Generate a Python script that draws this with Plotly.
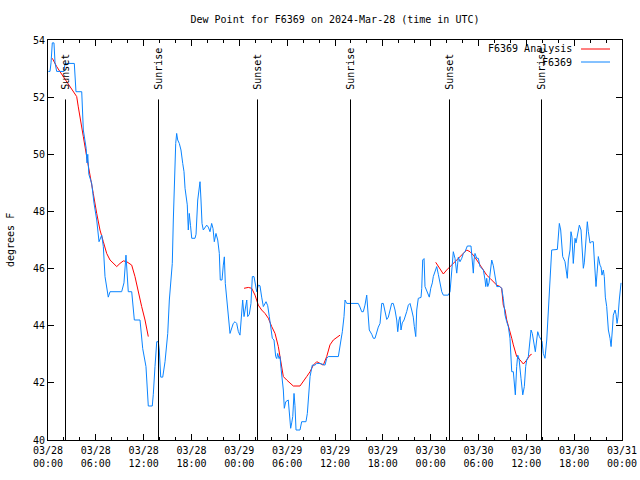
import plotly.graph_objects as go
from datetime import datetime, timedelta

START = datetime(2024, 3, 28, 0, 0)

# F6369 observations: hours since 2024-03-28 00:00 UTC, dew point (F)
obs_hours = [0.04, 0.25, 0.38, 0.54, 0.75, 0.88, 1.09, 2.01, 2.13, 3.30, 3.51, 4.23, 4.43, 4.79, 4.89, 4.99,
             5.12, 5.48, 5.77, 6.11, 6.40, 6.74, 6.94, 7.15, 7.56, 7.78, 9.24, 9.53, 9.78, 9.91, 10.07, 10.50,
             10.70, 10.83, 11.54, 11.67, 11.88, 12.29, 12.51, 12.58, 13.08, 13.21, 13.42, 13.64, 13.84, 13.96,
             14.14, 14.39, 14.68, 15.02, 15.22, 15.39, 15.59, 15.72, 15.84, 16.02, 16.14, 16.27, 16.47, 16.68,
             16.90, 17.06, 17.19, 17.47, 17.60, 17.72, 17.88, 18.03, 18.44, 18.57, 18.78, 18.94, 19.07, 19.19,
             19.32, 19.48, 19.69, 19.91, 20.11, 20.32, 20.53, 20.70, 20.86, 21.07, 21.29, 21.49, 21.61, 21.83,
             21.99, 22.12, 22.24, 22.42, 22.58, 22.83, 23.24, 23.46, 23.67, 23.87, 24.08, 24.30, 24.42, 24.59,
             24.71, 24.93, 25.05, 25.25, 25.46, 25.63, 25.84, 25.97, 26.18, 26.38, 26.59, 26.80, 27.01, 27.35,
             27.56, 27.76, 27.97, 28.14, 28.35, 28.56, 28.69, 28.81, 28.98, 29.10, 29.23, 29.39, 29.52, 29.64,
             29.82, 30.14, 30.27, 30.44, 30.57, 30.70, 30.86, 30.98, 31.11, 31.61, 31.82, 32.36, 32.53, 32.65,
             32.87, 33.15, 33.49, 33.71, 34.12, 34.75, 34.96, 35.16, 36.42, 36.75, 36.92, 37.13, 37.26, 37.47,
             38.92, 39.14, 39.35, 39.55, 39.76, 39.98, 40.10, 40.30, 40.61, 40.81, 41.02, 41.23, 41.43, 41.65,
             41.86, 42.06, 42.27, 42.49, 42.69, 42.90, 43.11, 43.31, 43.53, 43.74, 43.87, 44.03, 44.16, 44.28,
             44.44, 44.66, 44.87, 45.00, 45.20, 45.41, 45.62, 45.82, 45.95, 46.13, 46.25, 46.45, 46.79, 46.88,
             47.00, 47.17, 47.29, 47.50, 47.70, 47.83, 48.01, 48.21, 48.33, 48.55, 48.76, 48.96, 49.17, 49.39,
             49.59, 50.21, 50.43, 50.64, 50.84, 51.05, 51.27, 51.47, 51.68, 51.90, 52.10, 52.31, 52.60, 53.06,
             53.15, 53.35, 53.44, 53.56, 53.78, 53.98, 54.19, 54.40, 54.61, 54.82, 54.91, 55.03, 55.16, 55.32,
             55.44, 55.66, 55.86, 56.07, 56.29, 56.70, 56.91, 57.11, 57.33, 57.54, 57.74, 57.95, 58.08, 58.17,
             58.37, 58.49, 58.62, 58.79, 58.92, 59.08, 59.21, 59.33, 59.55, 59.75, 59.92, 60.05, 60.25, 60.46,
             60.59, 60.75, 60.88, 61.00, 61.13, 61.30, 61.43, 61.63, 61.81, 61.97, 62.13, 62.34, 62.56, 62.76,
             62.88, 62.97, 63.10, 63.18, 63.89, 64.01, 64.14, 64.31, 64.44, 64.56, 64.85, 64.98, 65.14, 65.27,
             65.48, 65.60, 65.73, 65.89, 66.11, 66.23, 66.36, 66.52, 66.65, 66.86, 67.07, 67.15, 67.27, 67.45,
             67.65, 67.78, 67.99, 68.20, 68.40, 68.53, 68.62, 68.74, 68.87, 69.03, 69.24, 69.37, 69.49, 69.66,
             69.78, 69.91, 70.08, 70.29, 70.50, 70.63, 70.79, 70.91, 71.13, 71.25, 71.38, 71.50, 71.66, 71.88]
obs_dewpt = [52.9, 52.9, 53.2, 53.9, 53.9, 53.2, 52.9, 52.9, 53.18, 53.18, 52.19, 52.19, 50.85, 50.2, 49.7, 50.0,
             49.3, 48.98, 48.29, 47.7, 46.94, 47.17, 46.77, 45.72, 45.0, 45.19, 45.19, 45.5, 46.47, 46.0, 45.19, 45.19,
             44.43, 44.2, 44.2, 43.85, 43.2, 42.57, 41.46, 41.19, 41.19, 41.6, 42.57, 43.44, 43.44, 43.15,
             42.2, 42.2, 42.74, 43.73, 44.9, 45.48, 46.18, 47.7, 48.98, 50.38, 50.73, 50.5, 50.38, 50.15,
             49.68, 49.39, 48.81, 48.23, 47.35, 47.93, 47.5, 47.06, 47.06, 47.2, 48.4, 48.87, 49.04, 48.4,
             47.58, 47.35, 47.45, 47.52, 47.45, 47.29, 47.58, 47.4, 46.94, 47.23, 47.0, 46.53, 45.6, 45.6,
             46.12, 46.41, 45.48, 44.9, 44.3, 43.73, 44.08, 44.14, 44.08, 43.8, 43.67, 44.6, 44.9, 44.32,
             44.6, 44.9, 44.32, 44.4, 44.78, 45.72, 45.72, 45.48, 45.19, 45.42, 45.4, 45.0, 44.67, 44.84,
             44.7, 44.32, 43.97, 43.56, 43.5, 42.92, 42.85, 43.03, 42.85, 42.92, 42.51, 42.16, 41.75, 41.11,
             41.34, 41.4, 40.93, 40.41, 40.6, 40.82, 41.63, 41.2, 40.35, 40.35, 40.64, 40.64, 40.93, 41.52,
             42.22, 42.62, 42.62, 42.68, 42.68, 42.62, 42.86, 42.92, 42.92, 43.5, 43.79, 44.32, 44.9, 44.78,
             44.78, 44.65, 44.49, 44.49, 44.72, 45.07, 44.5, 43.85, 43.7, 43.56, 43.56, 43.79, 43.95, 44.08,
             44.78, 44.78, 44.49, 44.22, 44.3, 44.6, 44.78, 44.78, 44.55, 44.2, 43.79, 44.2, 44.32, 43.85,
             44.1, 44.2, 44.37, 44.5, 44.72, 44.78, 44.55, 44.3, 43.97, 43.62, 44.55, 44.96, 44.99, 45.31,
             46.3, 46.35, 45.37, 45.2, 45.07, 45.0, 45.31, 45.5, 45.72, 45.95, 46.07, 45.8, 45.42, 45.19,
             45.07, 45.07, 45.19, 45.84, 46.59, 46.36, 45.84, 46.4, 46.24, 46.36, 46.53, 46.59, 46.79, 46.79,
             46.53, 45.84, 46.3, 46.53, 46.36, 46.36, 46.07, 46.0, 45.95, 45.6, 45.37, 45.66, 45.37, 45.5,
             45.84, 46.3, 46.1, 45.66, 45.37, 45.37, 45.31, 44.96, 44.37, 44.14, 43.97, 43.56, 43.03, 42.39,
             42.39, 42.1, 41.58, 42.57, 42.97, 42.85, 42.57, 42.16, 41.58, 41.87, 42.57, 42.8, 42.92, 43.38,
             43.85, 43.73, 43.5, 43.4, 43.09, 43.5, 43.79, 43.62, 43.5, 43.45, 43.03, 42.86, 43.5, 44.43,
             44.9, 45.72, 46.3, 46.65, 46.67, 47.0, 47.58, 47.35, 46.77, 46.42, 46.24, 45.89, 45.66, 46.3,
             46.65, 47.29, 47.1, 46.18, 47.06, 46.9, 47.06, 47.29, 47.52, 47.35, 46.36, 46.01, 46.2, 46.83,
             47.64, 47.29, 46.89, 46.94, 46.94, 46.3, 45.66, 45.37, 45.84, 46.42, 46.12, 46.05, 45.77, 45.95,
             45.72, 45.0, 44.67, 43.85, 43.56, 43.27, 43.85, 44.37, 44.55, 44.4, 44.08, 44.3, 44.9, 45.5]

# F6369 Analysis, three nightly segments
ana1_hours = [0.54, 0.75, 1.09, 1.51, 1.92, 2.55, 3.17, 3.60, 3.80, 4.01, 4.43, 4.85, 5.27, 5.68, 6.11,
              6.52, 6.94, 7.36, 7.78, 8.19, 8.62, 9.03, 9.45, 9.87, 10.50, 10.91, 11.33, 11.75, 12.17, 12.58]
ana1_dewpt = [53.36, 53.24, 53.07, 52.89, 52.72, 52.42, 52.19, 52.02, 51.66, 51.26, 50.62, 49.92, 49.33, 48.63, 47.93,
              47.35, 46.94, 46.53, 46.30, 46.18, 46.07, 46.18, 46.27, 46.24, 46.12, 45.72, 45.13, 44.67, 44.20, 43.62]
ana2_hours = [24.59, 25.13, 25.55, 25.97, 26.38, 26.80, 27.22, 27.64, 28.06, 28.48, 28.89, 29.10, 29.32, 29.52,
              29.94, 30.36, 30.77, 31.61, 32.03, 32.45, 32.87, 33.28, 33.71, 34.12, 34.53, 34.96, 35.16, 35.37,
              35.79, 36.21, 36.63]
ana2_dewpt = [45.31, 45.34, 45.31, 45.07, 44.72, 44.55, 44.43, 44.26, 43.97, 43.73, 43.27, 42.92, 42.57, 42.22,
              42.10, 41.99, 41.89, 41.89, 42.04, 42.22, 42.39, 42.62, 42.74, 42.68, 42.62, 42.92, 43.15, 43.33,
              43.50, 43.59, 43.67]
ana3_hours = [48.63, 49.09, 49.59, 50.01, 50.43, 50.84, 51.27, 51.68, 52.10, 52.52, 52.94, 53.35, 53.78, 54.19,
              54.61, 55.03, 55.44, 55.86, 56.29, 56.70, 56.91, 57.11, 57.33, 57.54, 57.74, 57.95, 58.17, 58.37,
              58.58, 58.79, 59.21, 59.63, 60.05, 60.46, 60.67]
ana3_dewpt = [46.22, 46.00, 45.81, 45.95, 46.07, 46.18, 46.30, 46.39, 46.53, 46.65, 46.59, 46.47, 46.30, 46.12,
              45.95, 45.77, 45.66, 45.54, 45.42, 45.37, 45.30, 44.72, 44.55, 44.20, 44.02, 43.79, 43.56, 43.33,
              43.09, 42.92, 42.80, 42.66, 42.80, 42.97, 43.00]

sun_labels = ["Sunset", "Sunrise", "Sunset", "Sunrise", "Sunset", "Sunrise"]
sun_times = ["2024-03-28 02:11:42", "2024-03-28 13:51:39", "2024-03-29 02:16:43",
             "2024-03-29 13:56:39", "2024-03-30 02:21:46", "2024-03-30 13:54:11"]
sun_line_top = 51.92
sun_label_base = 52.17

tick_times = ["2024-03-28 00:00", "2024-03-28 06:00", "2024-03-28 12:00", "2024-03-28 18:00",
              "2024-03-29 00:00", "2024-03-29 06:00", "2024-03-29 12:00", "2024-03-29 18:00",
              "2024-03-30 00:00", "2024-03-30 06:00", "2024-03-30 12:00", "2024-03-30 18:00",
              "2024-03-31 00:00"]
tick_labels = ["03/28<br>00:00", "03/28<br>06:00", "03/28<br>12:00", "03/28<br>18:00",
               "03/29<br>00:00", "03/29<br>06:00", "03/29<br>12:00", "03/29<br>18:00",
               "03/30<br>00:00", "03/30<br>06:00", "03/30<br>12:00", "03/30<br>18:00",
               "03/31<br>00:00"]


def to_time(hours):
    return [START + timedelta(hours=h) for h in hours]


ana_x = to_time(ana1_hours) + [None] + to_time(ana2_hours) + [None] + to_time(ana3_hours)
ana_y = ana1_dewpt + [None] + ana2_dewpt + [None] + ana3_dewpt

FONT = "DejaVu Sans Mono"
RED = "#ff0000"
BLUE = "#0a84ff"

fig = go.Figure()
fig.add_trace(go.Scatter(x=ana_x, y=ana_y, mode="lines", name="F6369 Analysis",
                         line=dict(color=RED, width=1), connectgaps=False, showlegend=False))
fig.add_trace(go.Scatter(x=to_time(obs_hours), y=obs_dewpt, mode="lines", name="F6369",
                         line=dict(color=BLUE, width=1), showlegend=False))

for lab, t in zip(sun_labels, sun_times):
    fig.add_shape(type="line", xref="x", yref="y", x0=t, x1=t, y0=40, y1=sun_line_top,
                  line=dict(color="black", width=1))
    fig.add_annotation(x=t, y=sun_label_base, xref="x", yref="y", text=lab, showarrow=False,
                       textangle=-90, xanchor="center", yanchor="bottom",
                       font=dict(family=FONT, size=10, color="black"))

# legend (gnuplot style: text on left, sample line on right)
legend_items = [("F6369 Analysis", RED, 0.9775), ("F6369", BLUE, 0.945)]
for name, col, yy in legend_items:
    fig.add_annotation(x=0.9164, y=yy, xref="paper", yref="paper", text=name, showarrow=False,
                       xanchor="right", yanchor="middle", font=dict(family=FONT, size=10, color="black"))
    fig.add_shape(type="line", xref="paper", yref="paper", x0=0.9286, x1=0.9791, y0=yy, y1=yy,
                  line=dict(color=col, width=1))

fig.add_annotation(x=-0.0662, y=0.5, xref="paper", yref="paper", text="degrees F", showarrow=False,
                   textangle=-90, xanchor="center", yanchor="middle",
                   font=dict(family=FONT, size=10, color="black"))

fig.update_layout(
    width=640, height=480, autosize=False,
    margin=dict(l=48, r=18, t=40, b=40, pad=0, autoexpand=False),
    paper_bgcolor="white", plot_bgcolor="white",
    font=dict(family=FONT, size=10, color="black"),
    title=dict(text="Dew Point for F6369 on 2024-Mar-28 (time in UTC)", x=0.5, xref="paper",
               y=1 - 19 / 480, yanchor="middle", font=dict(family=FONT, size=10, color="black"),
               automargin=False),
    showlegend=False,
)
fig.update_xaxes(
    type="date", range=["2024-03-28 00:00", "2024-03-31 00:00"], automargin=False,
    tickmode="array", tickvals=tick_times, ticktext=tick_labels,
    ticks="inside", ticklen=6, tickcolor="black", tickwidth=1, ticklabelstandoff=1,
    minor=dict(dtick=2 * 3600 * 1000, tick0="2024-03-28 00:00", ticks="inside", ticklen=3,
               tickcolor="black", showgrid=False),
    showgrid=False, zeroline=False, showline=True, linecolor="black", linewidth=1, mirror="ticks",
    tickfont=dict(family=FONT, size=10, color="black"),
)
fig.update_yaxes(
    range=[40, 54], dtick=2, tick0=40, automargin=False,
    ticks="inside", ticklen=6, tickcolor="black", tickwidth=1,
    showgrid=False, zeroline=False, showline=True, linecolor="black", linewidth=1, mirror="ticks",
    tickfont=dict(family=FONT, size=10, color="black"),
)

fig.write_html("out.html", config={"displayModeBar": False, "responsive": False},
               post_script="document.body.style.margin='0px';document.body.style.overflow='hidden';")
